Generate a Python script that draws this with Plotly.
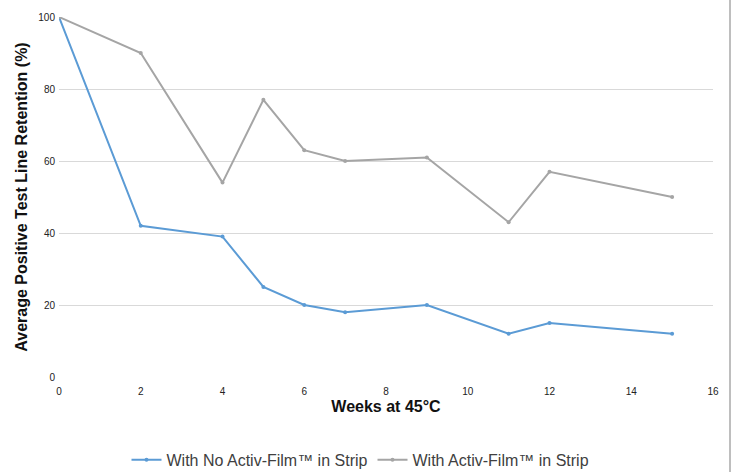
import plotly.graph_objects as go

weeks = [0, 2, 4, 5, 6, 7, 9, 11, 12, 15]
no_film = [100, 42, 39, 25, 20, 18, 20, 12, 15, 12]
with_film = [100, 90, 54, 77, 63, 60, 61, 43, 57, 50]
x_ticks = [0, 2, 4, 6, 8, 10, 12, 14, 16]
y_ticks = [0, 20, 40, 60, 80, 100]

FONT = "Liberation Sans, Arial, sans-serif"

fig = go.Figure()
fig.add_trace(go.Scatter(
    x=weeks, y=no_film, mode="lines+markers",
    name="With No Activ-Film™ in Strip",
    line=dict(color="#5B9BD5", width=2),
    marker=dict(size=4, color="#5B9BD5"),
))
fig.add_trace(go.Scatter(
    x=weeks, y=with_film, mode="lines+markers",
    name="With Activ-Film™ in Strip",
    line=dict(color="#A5A5A5", width=2),
    marker=dict(size=4, color="#A5A5A5"),
))

fig.update_layout(
    width=734, height=472,
    margin=dict(l=59, r=21, t=17, b=95, autoexpand=False),
    paper_bgcolor="white", plot_bgcolor="white",
    font=dict(family=FONT, color="#222222"),
    showlegend=True,
    legend=dict(orientation="h", x=0.461, xanchor="center", y=-0.23, yanchor="middle",
                font=dict(size=16, color="#404040"), itemwidth=30,
                tracegroupgap=0),
    xaxis=dict(range=[0, 16], tickvals=x_ticks, showgrid=False, zeroline=False,
               showline=False, ticks="", tickfont=dict(size=10, color="#222222"),
               automargin=False, ticklabelstandoff=7,
               title=dict(text="<b>Weeks at 45°C</b>", font=dict(size=16, color="#111111"),
                          standoff=4)),
    yaxis=dict(range=[0, 100], tickvals=y_ticks, showgrid=True, gridcolor="#D9D9D9",
               gridwidth=1, zeroline=False, showline=False, ticks="",
               automargin=False,
               tickfont=dict(size=10, color="#222222"), ticklabelstandoff=3,
               title=dict(text="<b>Average Positive Test Line Retention (%)</b>",
                          font=dict(size=16, color="#111111"), standoff=6)),
    shapes=[dict(type="rect", xref="paper", yref="paper", x0=1.0245, x1=1.0275,
                 y0=-0.3, y1=1.1, fillcolor="#BDBDBD", line=dict(width=0),
                 layer="above")],
)

fig.write_html(
    "out.html",
    config={"displayModeBar": False},
    post_script="document.body.style.margin='0';document.body.style.overflow='hidden';",
)
